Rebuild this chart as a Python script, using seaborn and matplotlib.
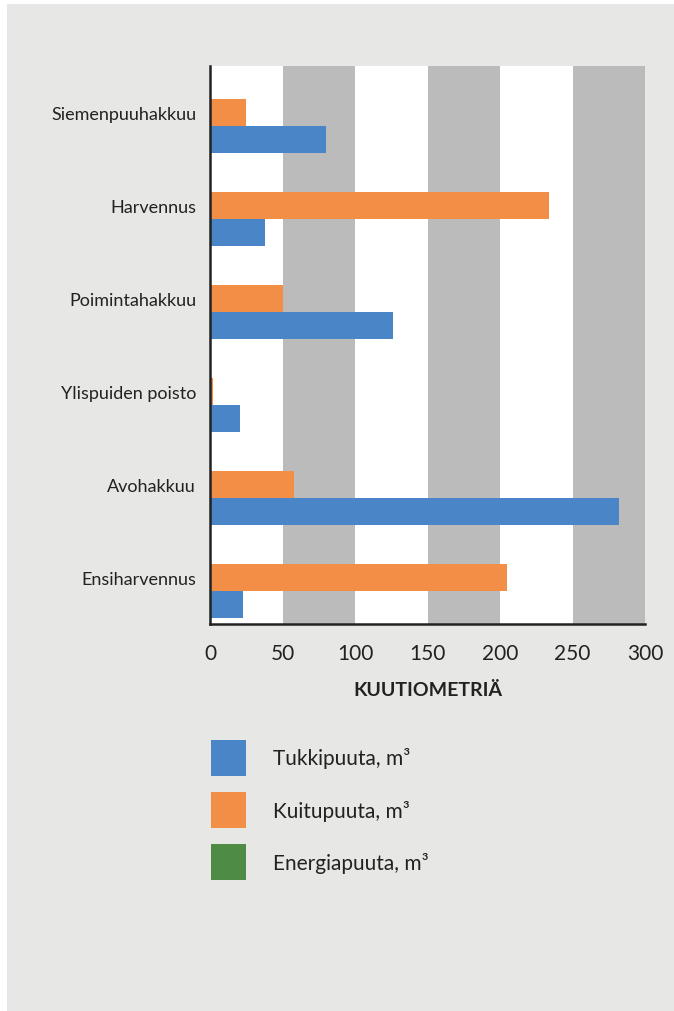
import pandas as pd
import seaborn as sns
import matplotlib.pyplot as plt
from matplotlib.patches import Patch, Rectangle

categories = ["Siemenpuuhakkuu", "Harvennus", "Poimintahakkuu",
              "Ylispuiden poisto", "Avohakkuu", "Ensiharvennus"]
tukki = [80, 38, 126, 21, 282, 23]
kuitu = [25, 234, 50, 2, 58, 205]
energia = [0, 0, 0, 0, 0, 0]
series = ["Tukkipuuta, m³", "Kuitupuuta, m³", "Energiapuuta, m³"]
colors = ["#4a86c7", "#f28e46", "#4e8b45"]

rows = []
for i, c in enumerate(categories):
    for s, vals in zip(series, [tukki, kuitu, energia]):
        rows.append({"cat": c, "serie": s, "m3": vals[i]})
df = pd.DataFrame(rows)

sns.set_style("white")
plt.rcParams["font.family"] = ["Lato", "DejaVu Sans"]

fig = plt.figure(figsize=(6.74, 10.12), dpi=100)
fig.patch.set_facecolor("white")
fig.patches.append(Rectangle((7 / 674, 0), 1, 1 - 5 / 1012, transform=fig.transFigure,
                             facecolor="#e7e7e5", edgecolor="none", zorder=-10))

ax = fig.add_axes([210 / 674, 1 - 625 / 1012, 435 / 674, 558 / 1012])
ax.set_facecolor("white")
for a, b in [(50, 100), (150, 200), (250, 300)]:
    ax.axvspan(a, b, color="#babbba", lw=0, zorder=0)

# energia ylimpänä, sitten kuitu, tukki alimpana
hue_order = [series[2], series[1], series[0]]
pal = {series[0]: colors[0], series[1]: colors[1], series[2]: colors[2]}
sns.barplot(data=df, x="m3", y="cat", hue="serie", hue_order=hue_order, order=categories,
            palette=pal, orient="h", width=0.87, saturation=1, legend=False, ax=ax,
            linewidth=0, edgecolor="none", zorder=2)

ax.set_xlim(0, 300)
ax.set_xticks([0, 50, 100, 150, 200, 250, 300])
ax.tick_params(axis="x", length=0, pad=14, labelsize=15, labelcolor="#222222")
ax.tick_params(axis="y", length=0, pad=10, labelsize=13, labelcolor="#222222")
ax.set_ylabel("")
ax.set_xlabel("KUUTIOMETRIÄ", fontsize=14, fontweight="bold", color="#222222", labelpad=13)
for s in ["top", "right"]:
    ax.spines[s].set_visible(False)
for s in ["left", "bottom"]:
    ax.spines[s].set_color("#222222")
    ax.spines[s].set_linewidth(1.8)
    ax.spines[s].set_zorder(3)

handles = [Patch(facecolor=c, edgecolor="none") for c in colors]
fig.legend(handles, series, loc="upper left", bbox_to_anchor=(211 / 674, 1 - 741 / 1012),
           frameon=False, fontsize=15, handlelength=1.68, handleheight=2.25,
           labelspacing=0.8, handletextpad=1.3, borderpad=0, borderaxespad=0,
           labelcolor="#222222")

fig.savefig("out.png", dpi=100, facecolor=fig.get_facecolor())
